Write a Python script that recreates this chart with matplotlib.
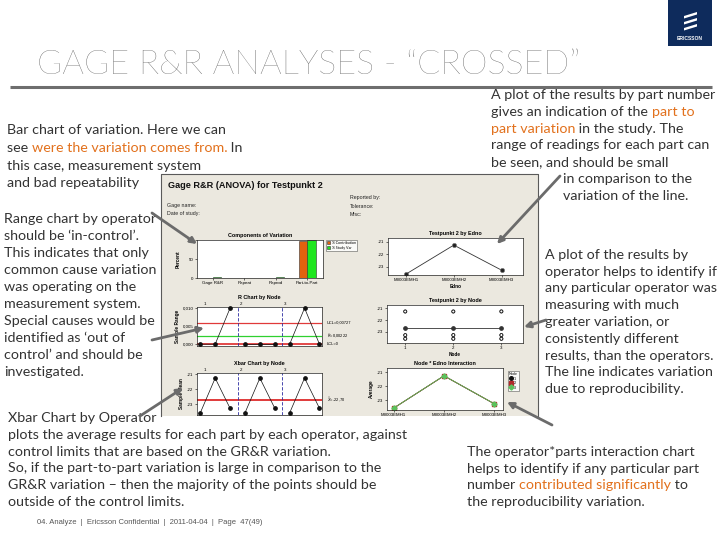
import matplotlib
matplotlib.use("Agg")
import matplotlib.pyplot as plt
from matplotlib.patches import Rectangle, FancyArrowPatch, Polygon
import numpy as np

plt.rcParams['font.family'] = ['Lato', 'DejaVu Sans']
plt.rcParams['axes.unicode_minus'] = False

# ---------------- data ----------------
components = ["Gage R&R", "Repeat", "Reprod", "Part-to-Part"]
pct_contribution = [0.5, 0.1, 0.4, 99.5]
pct_study_var = [2.0, 0.8, 1.8, 99.9]

parts = ["M0003EMH1", "M0003EMH2", "M0003EMH3"]
nodes = [1, 2, 3]
# readings: part1 (x2), part2 (x2), part3 (x2) for each node
readings_node1 = [-23.58, -23.58, -21.27, -21.27, -23.27, -23.28]
readings_node2 = [-23.58, -23.58, -21.27, -21.27, -23.27, -23.27]
readings_node3 = [-23.58, -23.58, -21.27, -21.26, -23.27, -23.27]

r_ucl = 0.0060
r_bar = 0.00222
r_lcl = 0.0
xbar_center = -22.70
r_ticks = [0.0, 0.005, 0.010]
r_tick_labels = ["0,000", "0,005", "0,010"]
t_ticks = [-21, -22, -23]

node_colors = ['#111111', '#b22a2a', '#5cc25c']
node_markers = ['o', 's', 'D']

# ---------------- derived ----------------
all_readings = np.array([readings_node1, readings_node2, readings_node3])
pairs = all_readings.reshape(3, 3, 2)
xbar_vals = pairs.mean(axis=2)              # node x part
r_vals = np.abs(pairs[:, :, 0] - pairs[:, :, 1])
edno_means = xbar_vals.mean(axis=0)
node_means = all_readings.mean(axis=1)

W, H = 720, 540
fig = plt.figure(figsize=(7.2, 5.4), dpi=100)
fig.patch.set_facecolor('white')


def box(x0, y0, x1, y1):
    return [x0 / W, 1 - y1 / H, (x1 - x0) / W, (y1 - y0) / H]


bg = fig.add_axes([0, 0, 1, 1], zorder=0)
bg.set_xlim(0, W)
bg.set_ylim(H, 0)
bg.axis('off')

renderer = fig.canvas.get_renderer()

TXT = '#333333'
ORANGE = '#e2711d'
FS = 10.3
FW = 'normal'


def text_width(s, fs):
    if not s:
        return 0.0
    t = bg.text(0, 0, s + "x", fontsize=fs, fontweight=FW)
    w1 = t.get_window_extent(renderer).width
    t.remove()
    t = bg.text(0, 0, "x", fontsize=fs, fontweight=FW)
    w2 = t.get_window_extent(renderer).width
    t.remove()
    return w1 - w2


def rich(x, y, pieces, fs=FS):
    prefix = ""
    for s, c in pieces:
        bg.text(x + text_width(prefix, fs), y, s, color=c, fontsize=fs,
                va='baseline', ha='left', fontweight=FW)
        prefix += s


def lines(x, y0, dy, rows, fs=FS):
    for i, row in enumerate(rows):
        if isinstance(row, str):
            row = [(row, TXT)]
        rich(x, y0 + i * dy, row, fs)


# ---------------- slide chrome ----------------
bg.text(37, 65, "GAGE R&R ANALYSES - \u201cCROSSED\u201d", fontsize=24.6,
        color='#505050', va='center', ha='left', fontweight='light')
bg.plot([10, 712], [87, 87], color='#6e6e6e', lw=2.2, solid_capstyle='butt')

bg.add_patch(Rectangle((668, 0), 44, 46, fc='#0e2b5c', ec='none'))
for yy in (14, 20, 26):
    bg.add_patch(Polygon([[684, yy + 2], [697, yy - 2], [697, yy + 0.5], [684, yy + 4.5]],
                         closed=True, fc='white', ec='none'))
bg.text(690, 38, "ERICSSON", fontsize=3.6, color='white', ha='center',
        va='center', fontweight='bold', family='Liberation Sans')

bg.text(37, 522, "04. Analyze  |  Ericsson Confidential  |  2011-04-04  |  Page  47(49)",
        fontsize=5.5, color='#555555', va='center', ha='left', family='Liberation Sans')

# ---------------- body text ----------------
lines(7, 134, 17.8, [
    "Bar chart of variation. Here we can",
    [("see ", TXT), ("were the variation comes from.", ORANGE), (" In", TXT)],
    "this case, measurement system",
    "and bad repeatability",
])

lines(4, 223, 17.05, [
    "Range chart by operator",
    "should be \u2018in-control\u2019.",
    "This indicates that only",
    "common cause variation",
    "was operating on the",
    "measurement system.",
    "Special causes would be",
    "identified as \u2018out of",
    "control\u2019 and should be",
    "investigated.",
])

lines(8, 422, 16.8, [
    "Xbar Chart by Operator",
    "plots the average results for each part by each operator, against",
    "control limits that are based on the GR&R variation.",
    "So, if the part-to-part variation is large in comparison to the",
    "GR&R variation \u2013 then the majority of the points should be",
    "outside of the control limits.",
])

lines(491, 99, 16.8, [
    "A plot of the results by part number",
    [("gives an indication of the ", TXT), ("part to", ORANGE)],
    [("part variation", ORANGE), (" in the study. The", TXT)],
    "range of readings for each part can",
    "be seen, and should be small",
])
lines(563, 183, 16.8, [
    "in comparison to the",
    "variation of the line.",
])

lines(545, 259, 16.75, [
    "A plot of the results by",
    "operator helps to identify if",
    "any particular operator was",
    "measuring with much",
    "greater variation, or",
    "consistently different",
    "results, than the operators.",
    "The line indicates variation",
    "due to reproducibility.",
])

lines(467, 456, 16.7, [
    "The operator*parts interaction chart",
    "helps to identify if any particular part",
    [("number ", TXT), ("contributed significantly", ORANGE), (" to", TXT)],
    "the reproducibility variation.",
])

# ---------------- embedded Minitab panel ----------------
PANEL = '#ebe8df'
bg.add_patch(Rectangle((161, 174), 377, 242, fc=PANEL, ec='none'))
bg.plot([161, 161, 538, 538], [416, 174, 174, 416], color='#5a5a5a', lw=0.8)

IF = 'Liberation Sans'
bg.text(168, 185, "Gage R&R (ANOVA) for Testpunkt 2", fontsize=6.6,
        fontweight='bold', family=IF, color='#111', va='center')
for yy, s in ((205, "Gage name:"), (213, "Date of study:")):
    bg.text(167, yy, s, fontsize=3.8, family=IF, color='#222', va='center')
for yy, s in ((198, "Reported by:"), (206, "Tolerance:"), (214, "Misc:")):
    bg.text(350, yy, s, fontsize=3.8, family=IF, color='#222', va='center')

TL = 3.2


def style(ax):
    ax.set_facecolor('white')
    for sp in ax.spines.values():
        sp.set_linewidth(0.5)
        sp.set_color('#222')
    ax.tick_params(labelsize=TL, length=1.5, width=0.4, pad=1)
    for lab in ax.get_xticklabels() + ax.get_yticklabels():
        lab.set_family(IF)


def ttl(ax, s, pad=2):
    ax.set_title(s, fontsize=3.9, fontweight='bold', family=IF, pad=pad)


def ylab(ax, s, pad=2):
    ax.set_ylabel(s, fontsize=3.4, fontweight='bold', family=IF, labelpad=pad)


def xlab(ax, s, pad=1):
    ax.set_xlabel(s, fontsize=3.4, fontweight='bold', family=IF, labelpad=pad)


# Components of variation
ax1 = fig.add_axes(box(197, 240, 323, 278), zorder=2)
xc = np.arange(len(components))
ax1.bar(xc - 0.135, pct_contribution, 0.27, color='#e2620e', edgecolor='#333',
        lw=0.4, label='% Contribution')
ax1.bar(xc + 0.135, pct_study_var, 0.27, color='#1ee61e', edgecolor='#333',
        lw=0.4, label='% Study Var')
ax1.set_xlim(-0.5, 3.5)
ax1.set_ylim(0, 101)
ax1.set_yticks([0, 50, 100])
ax1.set_xticks(xc)
ax1.set_xticklabels(components)
style(ax1)
ttl(ax1, "Components of Variation")
ylab(ax1, "Percent", 4)
leg = ax1.legend(loc='upper left', bbox_to_anchor=(1.02, 1.0), fontsize=2.6,
                 frameon=True, fancybox=False, edgecolor='#333',
                 handlelength=1.0, handleheight=0.9, borderpad=0.3,
                 labelspacing=0.2, handletextpad=0.4, borderaxespad=0.0)
leg.get_frame().set_linewidth(0.4)

# Testpunkt 2 by Edno
ax2 = fig.add_axes(box(388, 238, 523, 275), zorder=2)
ax2.plot(range(len(parts)), edno_means, color='#333', lw=0.6, marker='o',
         ms=3, mfc='#222', mec='#777', mew=0.5)
ax2.set_xlim(-0.38, 2.45)
ax2.set_ylim(-23.66, -20.70)
ax2.set_yticks(t_ticks)
ax2.set_xticks(range(len(parts)))
ax2.set_xticklabels(parts)
style(ax2)
ttl(ax2, "Testpunkt 2 by Edno")
xlab(ax2, "Edno")

# R chart by node
idx = np.arange(9)
ax3 = fig.add_axes(box(197, 307, 322, 346), zorder=2)
rflat = r_vals.flatten()
for k in range(3):
    ax3.plot(idx[3 * k:3 * k + 3], rflat[3 * k:3 * k + 3], color='#111', lw=0.5,
             marker='o', ms=2.4, zorder=3, clip_on=False)
ax3.axhline(r_ucl, color='#e03a3a', lw=0.9)
ax3.axhline(r_bar, color='#2fd02f', lw=0.9)
ax3.axhline(r_lcl, color='#e03a3a', lw=1.3)
for xv in (2.5, 5.5):
    ax3.axvline(xv, color='#2a2aa0', ls='--', lw=0.6, dashes=(4, 2))
ax3.set_xlim(-0.22, 8.17)
ax3.set_ylim(-0.0005, 0.0103)
ax3.set_xticks([])
ax3.set_yticks(r_ticks)
ax3.set_yticklabels(r_tick_labels)
style(ax3)
ttl(ax3, "R Chart by Node", pad=6)
ylab(ax3, "Sample Range", 2)
tr3 = ax3.get_xaxis_transform()
for pos, n in zip([0.3, 2.7, 5.7], nodes):
    ax3.text(pos, 1.03, str(n), transform=tr3, fontsize=TL, family=IF, va='bottom', ha='center')
ty3 = ax3.get_yaxis_transform()
ax3.text(1.04, r_ucl, "UCL=0,00727", transform=ty3, fontsize=2.9, family=IF, va='center')
ax3.text(1.04, r_bar, r"$\bar{R}$=0,00222", transform=ty3, fontsize=2.9, family=IF, va='center')
ax3.text(1.04, r_lcl, "LCL=0", transform=ty3, fontsize=2.9, family=IF, va='center')

# Xbar chart by node
ax4 = fig.add_axes(box(197, 373, 322, 415), zorder=2)
xflat = xbar_vals.flatten()
for k in range(3):
    ax4.plot(idx[3 * k:3 * k + 3], xflat[3 * k:3 * k + 3], color='#111', lw=0.5,
             marker='o', ms=2.4, zorder=3)
ax4.axhline(xbar_center, color='#e03a3a', lw=1.4)
for xv in (2.5, 5.5):
    ax4.axvline(xv, color='#2a2aa0', ls='--', lw=0.6, dashes=(4, 2))
ax4.set_xlim(-0.22, 8.17)
ax4.set_ylim(-23.72, -20.93)
ax4.set_xticks([])
ax4.set_yticks(t_ticks)
style(ax4)
ttl(ax4, "Xbar Chart by Node", pad=6)
ylab(ax4, "Sample Mean", 2)
tr4 = ax4.get_xaxis_transform()
for pos, n in zip([0.3, 2.7, 5.7], nodes):
    ax4.text(pos, 1.03, str(n), transform=tr4, fontsize=TL, family=IF, va='bottom', ha='center')
ax4.text(1.04, xbar_center, r"$\bar{\bar{X}}$=-22,70", transform=ax4.get_yaxis_transform(),
         fontsize=2.9, family=IF, va='center')

# Testpunkt 2 by Node
ax5 = fig.add_axes(box(387, 305, 523, 343), zorder=2)
for n, rd in zip(nodes, all_readings):
    ax5.scatter([n] * len(rd), rd, facecolors='none', edgecolors='#222', s=5, lw=0.5, zorder=3)
ax5.plot(nodes, node_means, color='#333', lw=0.6, marker='o', ms=2.4, zorder=4)
ax5.set_xlim(0.62, 3.45)
ax5.set_ylim(-23.94, -20.72)
ax5.set_xticks(nodes)
ax5.set_yticks(t_ticks)
style(ax5)
ttl(ax5, "Testpunkt 2 by Node")
xlab(ax5, "Node")

# Node * Edno interaction
ax6 = fig.add_axes(box(387, 368, 503, 410), zorder=2)
for k, n in enumerate(nodes):
    ax6.plot(range(len(parts)), xbar_vals[k], color=node_colors[k], lw=0.6,
             marker=node_markers[k], ms=2.6, label=str(n))
ax6.set_xlim(-0.13, 2.17)
ax6.set_ylim(-23.71, -20.71)
ax6.set_xticks(range(len(parts)))
ax6.set_xticklabels(parts)
ax6.set_yticks(t_ticks)
style(ax6)
ttl(ax6, "Node * Edno Interaction")
ylab(ax6, "Average", 2)
leg6 = ax6.legend(title='Node', loc='upper left', bbox_to_anchor=(1.04, 0.93),
                  fontsize=2.6, title_fontsize=2.6, frameon=True, fancybox=False,
                  edgecolor='#333', handlelength=0.6, borderpad=0.3,
                  labelspacing=0.15, handletextpad=0.4, borderaxespad=0.0)
leg6.get_frame().set_linewidth(0.4)

# ---------------- arrows ----------------
top = fig.add_axes([0, 0, 1, 1], zorder=10)
top.set_xlim(0, W)
top.set_ylim(H, 0)
top.axis('off')
top.patch.set_alpha(0)
arrow_pairs = [
    ((152, 213), (197, 244)),
    ((152, 340), (204, 328)),
    ((140, 416), (183, 388)),
    ((560, 176), (497, 244)),
    ((546, 320), (524, 327)),
    ((552, 425), (507, 402)),
]
for (x0, y0), (x1, y1) in arrow_pairs:
    top.add_patch(FancyArrowPatch((x0, y0), (x1, y1), arrowstyle='-|>',
                                  mutation_scale=9, lw=2.0, color='#6b6b6b',
                                  shrinkA=0, shrinkB=0))

fig.savefig("out.png", dpi=100, facecolor='white')
